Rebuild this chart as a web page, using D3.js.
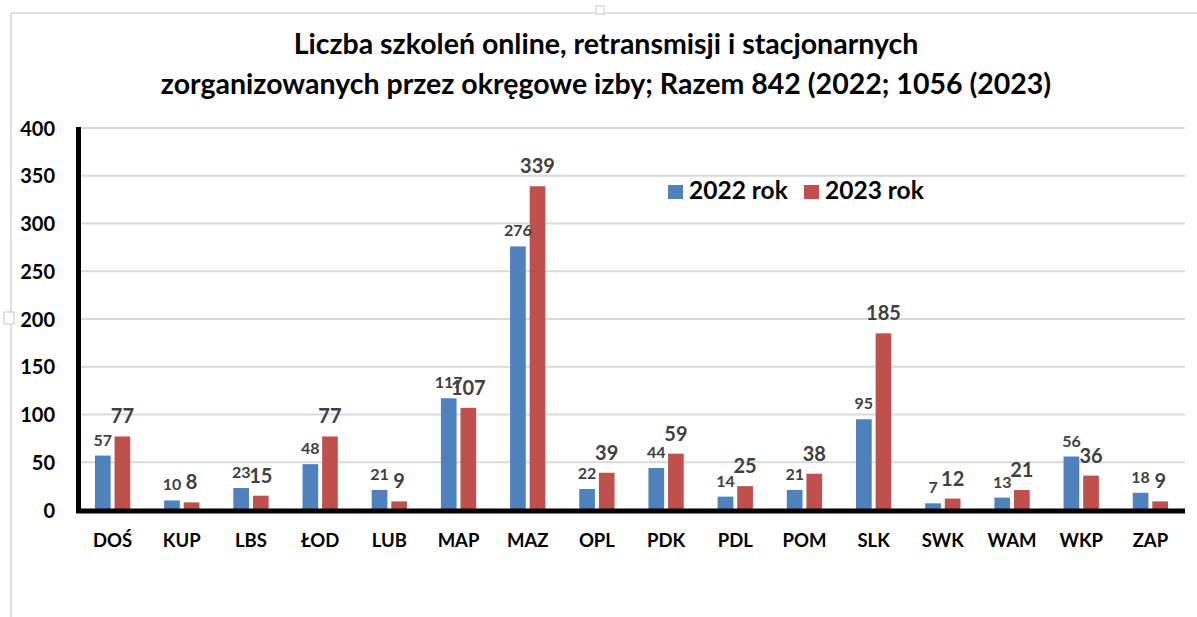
<!DOCTYPE html>
<html>
<head>
<meta charset="utf-8">
<script src="https://cdn.jsdelivr.net/npm/d3@7"></script>
<style>
  html, body { margin: 0; padding: 0; background: #fff; }
  svg { display: block; font-family: Lato, "Noto Sans", sans-serif; font-weight: bold; }
</style>
</head>
<body>
<div id="chart"></div>
<script>
// chart data
const categories = ['DOŚ', 'KUP', 'LBS', 'ŁOD', 'LUB', 'MAP', 'MAZ', 'OPL', 'PDK', 'PDL', 'POM', 'SLK', 'SWK', 'WAM', 'WKP', 'ZAP'];
const series = ['2022 rok', '2023 rok'];
const values2022 = [57, 10, 23, 48, 21, 117, 276, 22, 44, 14, 21, 95, 7, 13, 56, 18];
const values2023 = [77, 8, 15, 77, 9, 107, 339, 39, 59, 25, 38, 185, 12, 21, 36, 9];
const yTicks = [0, 50, 100, 150, 200, 250, 300, 350, 400];
const titleLines = [
  'Liczba szkoleń online, retransmisji i stacjonarnych',
  'zorganizowanych przez okręgowe izby; Razem 842 (2022; 1056 (2023)'
];

const colors = { '2022 rok': '#4F81BD', '2023 rok': '#C0504D' };

const width = 1197, height = 617;
const plot = { left: 78, right: 1185, top: 128, bottom: 510 };

const svg = d3.select('#chart').append('svg')
  .attr('width', width)
  .attr('height', height);

// outer frame (partially visible chart border)
svg.append('line').attr('x1', 11).attr('x2', width).attr('y1', 13).attr('y2', 13)
  .attr('stroke', '#d4d4d4').attr('stroke-width', 1.5);
svg.append('line').attr('x1', 11).attr('x2', 11).attr('y1', 13).attr('y2', height)
  .attr('stroke', '#d4d4d4').attr('stroke-width', 1.5);
// resize handles
svg.append('rect').attr('x', 596).attr('y', 6).attr('width', 8).attr('height', 8)
  .attr('fill', '#fff').attr('stroke', '#c8c8c8');
svg.append('rect').attr('x', 4).attr('y', 312).attr('width', 10).attr('height', 12)
  .attr('fill', '#fff').attr('stroke', '#c8c8c8');

// title
svg.append('g').selectAll('text').data(titleLines).enter().append('text')
  .attr('x', 606)
  .attr('y', (d, i) => 54 + i * 40)
  .attr('text-anchor', 'middle')
  .attr('font-size', 28.5)
  .attr('fill', '#000')
  .text(d => d);

const x0 = d3.scaleBand()
  .domain(categories)
  .range([plot.left, plot.right])
  .paddingInner(0.49)
  .paddingOuter(0.245);

const x1 = d3.scaleBand()
  .domain(series)
  .range([0, x0.bandwidth()])
  .paddingInner(0.2);

const y = d3.scaleLinear()
  .domain([0, 400])
  .range([plot.bottom, plot.top]);

// gridlines
svg.append('g').selectAll('line').data(yTicks.filter(t => t > 0)).enter().append('line')
  .attr('x1', plot.left).attr('x2', plot.right)
  .attr('y1', d => y(d)).attr('y2', d => y(d))
  .attr('stroke', '#d9d9d9').attr('stroke-width', 2);

// y axis labels
const yAxis = svg.append('g')
  .attr('transform', `translate(${plot.left - 23},0)`)
  .call(d3.axisLeft(y).tickValues(yTicks).tickSize(0).tickPadding(0));
yAxis.select('.domain').remove();
yAxis.selectAll('text')
  .attr('font-family', 'Lato, "Noto Sans", sans-serif')
  .attr('font-weight', 'bold')
  .attr('font-size', 20)
  .attr('fill', '#000')
  .attr('dy', '0.36em');

// x axis labels
const xAxis = svg.append('g')
  .attr('transform', `translate(0,${plot.bottom})`)
  .call(d3.axisBottom(x0).tickSize(0).tickPadding(0));
xAxis.select('.domain').remove();
xAxis.selectAll('text')
  .attr('font-family', 'Lato, "Noto Sans", sans-serif')
  .attr('font-weight', 'bold')
  .attr('font-size', 18.5)
  .attr('fill', '#000')
  .attr('dy', '1.98em');

const rows = categories.map((c, i) => ({
  category: c,
  bars: [
    { key: '2022 rok', value: values2022[i] },
    { key: '2023 rok', value: values2023[i] }
  ]
}));

const groups = svg.append('g').selectAll('g').data(rows).enter().append('g')
  .attr('transform', d => `translate(${x0(d.category)},0)`);

groups.selectAll('rect').data(d => d.bars).enter().append('rect')
  .attr('x', d => x1(d.key))
  .attr('width', x1.bandwidth())
  .attr('y', d => y(d.value))
  .attr('height', d => y(0) - y(d.value))
  .attr('fill', d => colors[d.key]);

// data labels (2022 smaller, 2023 larger)
groups.selectAll('text.lbl').data(d => d.bars).enter().append('text')
  .attr('class', 'lbl')
  .attr('x', d => x1(d.key) + x1.bandwidth() / 2)
  .attr('y', d => y(d.value) - (d.key === '2022 rok' ? 10 : 13))
  .attr('text-anchor', 'middle')
  .attr('font-size', d => d.key === '2022 rok' ? 16 : 20)
  .attr('fill', '#404040')
  .text(d => d.value);

// axis lines
svg.append('line')
  .attr('x1', 78.5).attr('x2', 78.5)
  .attr('y1', plot.top - 1).attr('y2', plot.bottom + 3)
  .attr('stroke', '#000').attr('stroke-width', 5);
svg.append('line')
  .attr('x1', 76).attr('x2', plot.right)
  .attr('y1', plot.bottom + 1).attr('y2', plot.bottom + 1)
  .attr('stroke', '#000').attr('stroke-width', 5);

// legend
const legend = svg.append('g').selectAll('g').data(series).enter().append('g')
  .attr('transform', (d, i) => `translate(${668 + i * 136},0)`);
legend.append('rect')
  .attr('x', 0).attr('y', 185)
  .attr('width', 15).attr('height', 14)
  .attr('fill', d => colors[d]);
legend.append('text')
  .attr('x', 21).attr('y', 199)
  .attr('font-size', 24.5)
  .attr('fill', '#000')
  .text(d => d);
</script>
</body>
</html>
